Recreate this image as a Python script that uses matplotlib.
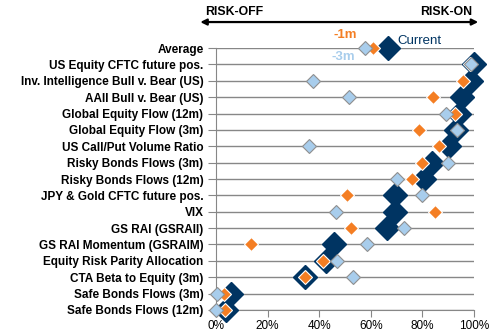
import matplotlib
matplotlib.use("Agg")
import matplotlib.pyplot as plt
from matplotlib.ticker import PercentFormatter

# rows from top to bottom
indicators = [
    "Average",
    "US Equity CFTC future pos.",
    "Inv. Intelligence Bull v. Bear (US)",
    "AAII Bull v. Bear (US)",
    "Global Equity Flow (12m)",
    "Global Equity Flow (3m)",
    "US Call/Put Volume Ratio",
    "Risky Bonds Flows (3m)",
    "Risky Bonds Flows (12m)",
    "JPY & Gold CFTC future pos.",
    "VIX",
    "GS RAI (GSRAII)",
    "GS RAI Momentum (GSRAIM)",
    "Equity Risk Parity Allocation",
    "CTA Beta to Equity (3m)",
    "Safe Bonds Flows (3m)",
    "Safe Bonds Flows (12m)",
]

current = [0.667, 1.00, 0.99, 0.953, 0.94, 0.93, 0.903, 0.837, 0.806, 0.694,
           0.694, 0.662, 0.457, 0.425, 0.345, 0.06, 0.04]
minus_1m = [0.61, 0.985, 0.957, 0.84, 0.926, 0.787, 0.864, 0.80, 0.76, 0.507,
            0.849, 0.522, 0.135, 0.415, 0.345, 0.03, 0.035]
minus_3m = [0.578, 0.99, 0.376, 0.516, 0.892, 0.933, 0.36, 0.90, 0.70, 0.80,
            0.465, 0.729, 0.585, 0.47, 0.532, 0.005, 0.0]

x_ticks = [0, 0.2, 0.4, 0.6, 0.8, 1.0]

navy = "#003462"
orange = "#F47E23"
light_blue = "#A8CDEC"
grid_grey = "#878787"

plt.rcParams['font.family'] = ['Liberation Sans', 'DejaVu Sans']

fig = plt.figure(figsize=(5, 3.34), dpi=100)
ax = fig.add_axes([0.432, 0.072, 0.516, 0.784])

n = len(indicators)
ypos = [n - 1 - i for i in range(n)]

for y in ypos:
    ax.axhline(y, color=grid_grey, lw=1, zorder=1)

ax.plot(current, ypos, ls='none', marker='D', ms=11.8, mfc=navy, mec=navy,
        mew=1, zorder=3, clip_on=False)
ax.plot(minus_1m, ypos, ls='none', marker='D', ms=7.2, mfc=orange, mec='white',
        mew=0.8, zorder=4, clip_on=False)
ax.plot(minus_3m, ypos, ls='none', marker='D', ms=7.2, mfc=light_blue, mec='#8f8f8f',
        mew=0.8, zorder=5, clip_on=False)

ax.set_xlim(0, 1)
ax.set_ylim(0, n - 1)
ax.set_xticks(x_ticks)
ax.xaxis.set_major_formatter(PercentFormatter(1.0, decimals=0))
ax.set_yticks(ypos)
ax.set_yticklabels(indicators, fontweight='bold', fontsize=8.5)
ax.tick_params(axis='y', length=6, color=grid_grey, pad=3)
ax.tick_params(axis='x', length=5, color=grid_grey, labelsize=8.5, pad=2)

for side in ['top', 'right']:
    ax.spines[side].set_visible(False)
ax.spines['left'].set_color(grid_grey)
ax.spines['bottom'].set_color(grid_grey)

# risk-off / risk-on arrow
fig.patches.append(matplotlib.patches.FancyArrowPatch(
    (0.395, 0.934), (0.962, 0.934), transform=fig.transFigure,
    arrowstyle='<|-|>', mutation_scale=9, lw=1.6, color='black'))
fig.text(0.41, 0.945, "RISK-OFF", fontsize=8.8, fontweight='bold', ha='left', va='bottom')
fig.text(0.944, 0.945, "RISK-ON", fontsize=8.8, fontweight='bold', ha='right', va='bottom')

# series labels
fig.text(0.668, 0.895, "-1m", fontsize=9.5, color=orange, fontweight='bold', ha='left', va='center')
fig.text(0.664, 0.83, "-3m", fontsize=9.5, color=light_blue, fontweight='bold', ha='left', va='center')
fig.text(0.795, 0.878, "Current", fontsize=9.5, color=navy, ha='left', va='center')

fig.savefig("out.png", dpi=100)
